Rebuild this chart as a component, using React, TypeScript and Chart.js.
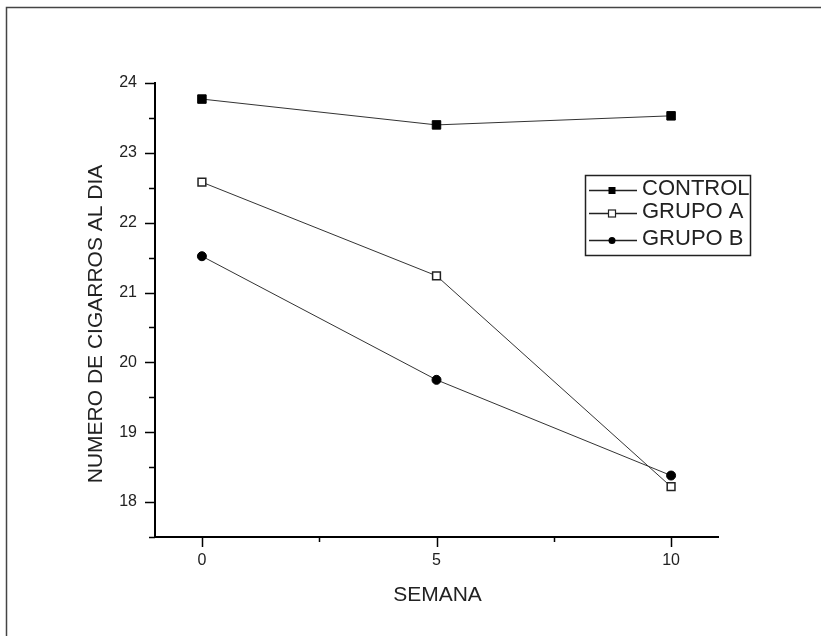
import { useEffect, useRef } from "react";
import { Chart, registerables } from "chart.js";

Chart.register(...registerables);

const weeks = [0, 5, 10];
const seriesNames = ["CONTROL", "GRUPO A", "GRUPO B"];
const controlValues = [23.77, 23.4, 23.53];
const grupoAValues = [22.58, 21.24, 18.22];
const grupoBValues = [21.52, 19.75, 18.38];
const xTickValues = [0, 5, 10];
const xMinorTicks = [2.5, 7.5];
const yTickValues = [18, 19, 20, 21, 22, 23, 24];
const yMinorTicks = [17.5, 18.5, 19.5, 20.5, 21.5, 22.5, 23.5];
const xTitle = "SEMANA";
const yTitle = "NUMERO DE CIGARROS AL DIA";

const FONT = "'Liberation Sans', Arial, sans-serif";
const INK = "#222";

const decorPlugin = {
  id: "decor",
  beforeDraw(chart: any) {
    const ctx = chart.ctx;
    ctx.save();
    ctx.fillStyle = "#fff";
    ctx.fillRect(0, 0, chart.width, chart.height);
    ctx.strokeStyle = "#444";
    ctx.lineWidth = 1.5;
    ctx.beginPath();
    ctx.moveTo(6.5, chart.height);
    ctx.lineTo(6.5, 7.5);
    ctx.lineTo(chart.width, 7.5);
    ctx.stroke();
    ctx.restore();
  },
  afterDraw(chart: any) {
    const ctx = chart.ctx;
    const xs = chart.scales.x;
    const ys = chart.scales.y;
    const area = chart.chartArea;
    ctx.save();
    ctx.strokeStyle = "#000";
    ctx.lineWidth = 1.5;
    ctx.beginPath();
    xTickValues.forEach((v) => {
      const px = Math.round(xs.getPixelForValue(v)) + 0.5;
      ctx.moveTo(px, area.bottom);
      ctx.lineTo(px, area.bottom + 10);
    });
    xMinorTicks.forEach((v) => {
      const px = Math.round(xs.getPixelForValue(v)) + 0.5;
      ctx.moveTo(px, area.bottom);
      ctx.lineTo(px, area.bottom + 5);
    });
    yTickValues.forEach((v) => {
      const py = Math.round(ys.getPixelForValue(v)) + 0.5;
      ctx.moveTo(area.left, py);
      ctx.lineTo(area.left - 10, py);
    });
    yMinorTicks.forEach((v) => {
      const py = Math.round(ys.getPixelForValue(v)) + 0.5;
      ctx.moveTo(area.left, py);
      ctx.lineTo(area.left - 6, py);
    });
    ctx.stroke();

    // axis titles
    ctx.fillStyle = INK;
    ctx.font = `21px ${FONT}`;
    ctx.textAlign = "center";
    ctx.textBaseline = "middle";
    ctx.fillText(xTitle, (area.left + area.right) / 2 + 1, 595);
    ctx.save();
    ctx.translate(96, 324);
    ctx.rotate(-Math.PI / 2);
    ctx.fillText(yTitle, 0, 0);
    ctx.restore();

    // legend
    const box = { x: 585.5, y: 175.5, w: 165, h: 80 };
    ctx.strokeStyle = "#222";
    ctx.lineWidth = 1.5;
    ctx.strokeRect(box.x, box.y, box.w, box.h);
    const rows = [190, 213, 240];
    chart.data.datasets.forEach((ds: any, i: number) => {
      const y = rows[i];
      ctx.strokeStyle = "#222";
      ctx.lineWidth = 1.5;
      ctx.beginPath();
      ctx.moveTo(589, y + 0.5);
      ctx.lineTo(637, y + 0.5);
      ctx.stroke();
      const cx = 612;
      if (ds.pointStyle === "circle") {
        ctx.fillStyle = "#000";
        ctx.beginPath();
        ctx.arc(cx, y + 0.5, 3.5, 0, Math.PI * 2);
        ctx.fill();
      } else if (ds.pointBackgroundColor === "#fff") {
        ctx.fillStyle = "#fff";
        ctx.fillRect(cx - 3.5, y - 3, 7, 7);
        ctx.strokeStyle = "#222";
        ctx.lineWidth = 1.2;
        ctx.strokeRect(cx - 3.5, y - 3, 7, 7);
      } else {
        ctx.fillStyle = "#000";
        ctx.fillRect(cx - 3.5, y - 3, 7, 7);
      }
      ctx.fillStyle = INK;
      ctx.font = `22px ${FONT}`;
      ctx.textAlign = "left";
      ctx.textBaseline = "middle";
      ctx.fillText(ds.label, 642, y - 1);
    });
    ctx.restore();
  },
};

export default function App() {
  const canvasRef = useRef<HTMLCanvasElement | null>(null);

  useEffect(() => {
    document.body.style.margin = "0";
    const canvas = canvasRef.current;
    if (!canvas) return;
    const toPoints = (vals: number[]) => weeks.map((x, i) => ({ x, y: vals[i] }));
    const chart = new Chart(canvas, {
      type: "line",
      data: {
        datasets: [
          {
            label: seriesNames[0],
            data: toPoints(controlValues),
            borderColor: "#333",
            borderWidth: 1,
            pointStyle: "rect",
            pointRadius: 6,
            pointBackgroundColor: "#000",
            pointBorderColor: "#000",
            pointBorderWidth: 1,
            tension: 0,
            clip: false,
          },
          {
            label: seriesNames[1],
            data: toPoints(grupoAValues),
            borderColor: "#333",
            borderWidth: 1,
            pointStyle: "rect",
            pointRadius: 5.5,
            pointBackgroundColor: "#fff",
            pointBorderColor: "#222",
            pointBorderWidth: 1.5,
            tension: 0,
            clip: false,
          },
          {
            label: seriesNames[2],
            data: toPoints(grupoBValues),
            borderColor: "#333",
            borderWidth: 1,
            pointStyle: "circle",
            pointRadius: 4.5,
            pointBackgroundColor: "#000",
            pointBorderColor: "#000",
            pointBorderWidth: 1,
            tension: 0,
            clip: false,
          },
        ],
      } as any,
      options: {
        animation: false,
        responsive: false,
        devicePixelRatio: 1,
        layout: { padding: { top: 83, right: 103, left: 0, bottom: 0 } },
        plugins: {
          legend: { display: false },
          tooltip: { enabled: false },
        },
        events: [],
        scales: {
          x: {
            type: "linear",
            min: -1,
            max: 11,
            afterBuildTicks: (s: any) => {
              s.ticks = xTickValues.map((v) => ({ value: v }));
            },
            afterFit: (s: any) => {
              s.height = 99;
            },
            grid: { display: false, drawTicks: false },
            border: { display: true, color: "#000", width: 2 },
            ticks: {
              color: INK,
              font: { family: FONT, size: 16 },
              padding: 14,
              maxRotation: 0,
              autoSkip: false,
              callback: (v: any) => String(v),
            },
          },
          y: {
            type: "linear",
            min: 17.5,
            max: 24,
            afterBuildTicks: (s: any) => {
              s.ticks = yTickValues.map((v) => ({ value: v }));
            },
            afterFit: (s: any) => {
              s.width = 155;
            },
            grid: { display: false, drawTicks: false },
            border: { display: true, color: "#000", width: 2 },
            ticks: {
              color: INK,
              font: { family: FONT, size: 16 },
              padding: 18,
              autoSkip: false,
              callback: (v: any) => String(v),
            },
          },
        },
      } as any,
      plugins: [decorPlugin],
    });
    return () => chart.destroy();
  }, []);

  return (
    <div style={{ width: 821, height: 636 }}>
      <canvas ref={canvasRef} width={821} height={636} style={{ display: "block" }} />
    </div>
  );
}
